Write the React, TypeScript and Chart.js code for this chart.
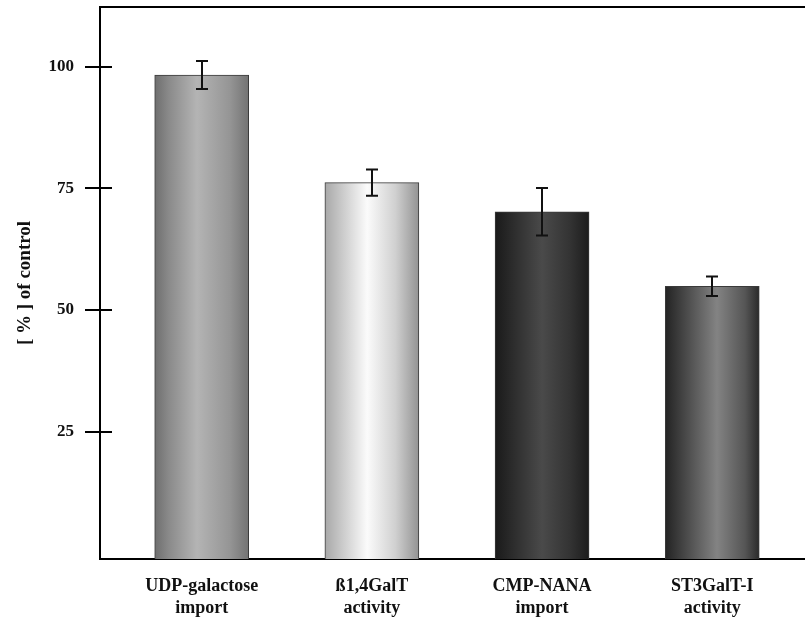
import React, { useEffect, useRef } from "react";
import { Chart, registerables } from "chart.js";

Chart.register(...registerables);

const categories: string[][] = [
  ["UDP-galactose", "import"],
  ["ß1,4GalT", "activity"],
  ["CMP-NANA", "import"],
  ["ST3GalT-I", "activity"],
];
const values = [98.3, 76.2, 70.2, 54.9];
const errors = [2.9, 2.7, 4.9, 2.0];
const yTicks = [25, 50, 75, 100];
const yTitle = "[ % ] of control";

const barGradients: [number, string][][] = [
  [[0, "#6e6e6e"], [0.15, "#8a8a8a"], [0.45, "#b4b4b4"], [0.8, "#959595"], [1, "#737373"]],
  [[0, "#a8a8a8"], [0.2, "#cdcdcd"], [0.45, "#fbfbfb"], [0.75, "#d0d0d0"], [1, "#939393"]],
  [[0, "#1a1a1a"], [0.5, "#4a4a4a"], [0.8, "#333333"], [1, "#1c1c1c"]],
  [[0, "#232323"], [0.55, "#838383"], [0.85, "#555555"], [1, "#2a2a2a"]],
];

const FONT = "'Liberation Serif', 'Times New Roman', serif";
const BAR_W = 94;

export default function App() {
  const ref = useRef<HTMLCanvasElement | null>(null);

  useEffect(() => {
    if (!ref.current) return;
    Chart.defaults.font.family = FONT;
    Chart.defaults.color = "#000";

    const decor = {
      id: "decor",
      afterDraw(chart: any) {
        const { ctx, chartArea, scales } = chart;
        ctx.save();
        ctx.strokeStyle = "#000";
        ctx.lineWidth = 2;
        ctx.beginPath();
        ctx.moveTo(chartArea.left - 1, chartArea.top);
        ctx.lineTo(chart.width, chartArea.top);
        ctx.stroke();
        yTicks.forEach((t) => {
          const y = Math.round(scales.y.getPixelForValue(t));
          ctx.beginPath();
          ctx.moveTo(chartArea.left - 15, y);
          ctx.lineTo(chartArea.left + 12, y);
          ctx.stroke();
        });
        ctx.restore();
      },
      afterDatasetsDraw(chart: any) {
        const { ctx, scales } = chart;
        ctx.save();
        ctx.strokeStyle = "#111";
        ctx.lineWidth = 2;
        values.forEach((v, i) => {
          const x = Math.round(scales.x.getPixelForValue(i));
          const yt = scales.y.getPixelForValue(v + errors[i]);
          const yb = scales.y.getPixelForValue(v - errors[i]);
          ctx.beginPath();
          ctx.moveTo(x, yt);
          ctx.lineTo(x, yb);
          ctx.moveTo(x - 6, yt);
          ctx.lineTo(x + 6, yt);
          ctx.moveTo(x - 6, yb);
          ctx.lineTo(x + 6, yb);
          ctx.stroke();
        });
        ctx.restore();
      },
    };

    const chart = new Chart(ref.current, {
      type: "bar",
      data: {
        datasets: [
          {
            data: values.map((v, i) => ({ x: i, y: v })),
            base: -1.15,
            barThickness: BAR_W,
            borderWidth: 1,
            borderColor: "#3a3a3a",
            borderSkipped: "bottom",
            backgroundColor: (c: any) => {
              const chart = c.chart;
              const xs = chart.scales?.x;
              const i = c.dataIndex;
              if (!xs || i == null || !barGradients[i]) return "#888";
              const cx = xs.getPixelForValue(i);
              if (!isFinite(cx)) return "#888";
              const g = chart.ctx.createLinearGradient(cx - BAR_W / 2, 0, cx + BAR_W / 2, 0);
              barGradients[i].forEach(([o, col]) => g.addColorStop(o, col));
              return g;
            },
          } as any,
        ],
      },
      options: {
        responsive: false,
        animation: false,
        devicePixelRatio: 1,
        layout: { padding: { top: 7, left: 0, right: 0, bottom: 0 } },
        plugins: { legend: { display: false }, tooltip: { enabled: false } },
        scales: {
          x: {
            type: "linear",
            offset: false,
            min: -0.5975,
            max: 3.545,
            afterBuildTicks: (s: any) => {
              s.ticks = categories.map((_, i) => ({ value: i }));
            },
            afterFit: (s: any) => {
              s.height = 58;
              s.paddingLeft = 0;
              s.paddingRight = 0;
            },
            grid: { display: true, drawOnChartArea: false, drawTicks: false, offset: false },
            border: { display: true, color: "#000", width: 2 },
            ticks: {
              autoSkip: false,
              maxRotation: 0,
              padding: 17,
              color: "#111",
              font: { size: 18, weight: "bold", family: FONT, lineHeight: 1.2 },
              callback: (v: any) => categories[v as number] ?? "",
            },
          },
          y: {
            type: "linear",
            min: -1.15,
            max: 112.27,
            afterBuildTicks: (s: any) => {
              s.ticks = yTicks.map((t) => ({ value: t }));
            },
            afterFit: (s: any) => {
              s.width = 100;
              s.paddingTop = 0;
              s.paddingBottom = 0;
            },
            grid: { display: true, drawOnChartArea: false, drawTicks: false },
            border: { display: true, color: "#000", width: 2 },
            ticks: {
              padding: 26,
              color: "#111",
              font: { size: 17, weight: "bold", family: FONT },
            },
            title: {
              display: true,
              text: yTitle,
              color: "#111",
              font: { size: 19, weight: "bold", family: FONT },
              padding: { top: 14, bottom: 0 },
            },
          },
        },
      },
      plugins: [decor],
    } as any);

    return () => chart.destroy();
  }, []);

  return (
    <div style={{ position: "fixed", left: 0, top: 0, width: 805, height: 617, background: "#fff" }}>
      <canvas ref={ref} width={805} height={617} style={{ display: "block", width: 805, height: 617 }} />
    </div>
  );
}
